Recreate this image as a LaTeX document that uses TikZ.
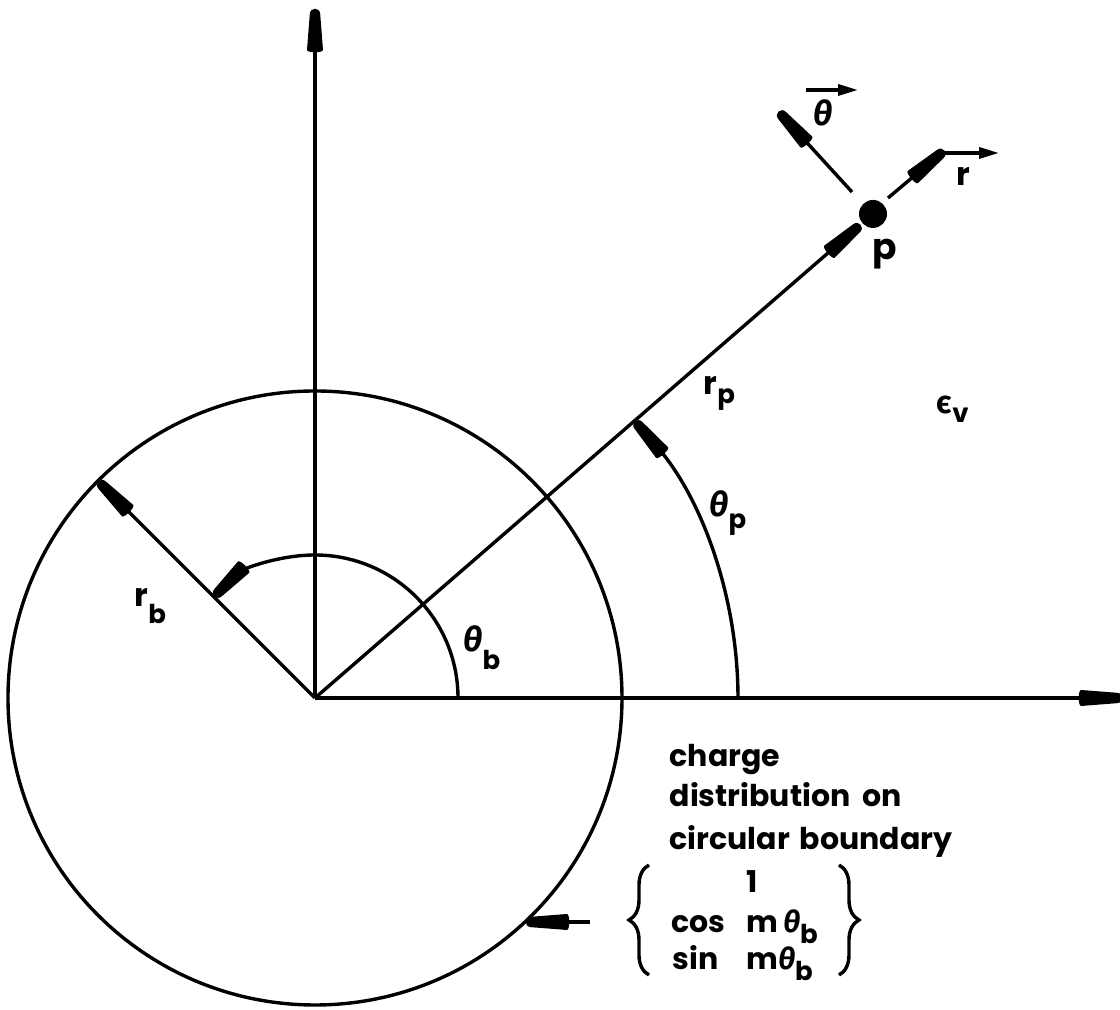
\documentclass[tikz,border=0pt]{standalone}
\usepackage{fontspec}
\setmainfont{Poppins}
\newfontfamily\grkfont{Fira Sans}
\usetikzlibrary{arrows.meta,decorations.pathreplacing}
\pgfdeclarearrow{
  name = Pencil,
  setup code = {
    \pgfarrowssettipend{0pt}
    \pgfarrowssetlineend{-18pt}
    \pgfarrowssetbackend{-22pt}
    \pgfarrowssetvisualbackend{-22pt}
    \pgfarrowshullpoint{0pt}{0pt}
    \pgfarrowshullpoint{-22pt}{4pt}
    \pgfarrowshullpoint{-22pt}{-4pt}
  },
  drawing code = {
    \pgfpathmoveto{\pgfpoint{-21pt}{4pt}}
    \pgfpathlineto{\pgfpoint{-3pt}{2.6pt}}
    \pgfpathcurveto{\pgfpoint{0.5pt}{2.4pt}}{\pgfpoint{0.5pt}{-2.4pt}}{\pgfpoint{-3pt}{-2.6pt}}
    \pgfpathlineto{\pgfpoint{-21pt}{-4pt}}
    \pgfpathcurveto{\pgfpoint{-22.5pt}{-4pt}}{\pgfpoint{-22.5pt}{4pt}}{\pgfpoint{-21pt}{4pt}}
    \pgfpathclose
    \pgfusepathqfill
  },
}
\newcommand{\lowsub}[2][0.45ex]{\raisebox{-#1}{\fontsize{13}{13}\selectfont #2}}
\newcommand{\thet}{{\grkfont\bfseries\itshape θ}}
\begin{document}
\begin{tikzpicture}[x=0.5pt,y=0.5pt,line width=1.7pt,
  pen/.tip={Pencil},
  small/.tip={Triangle[length=10pt,width=5.5pt]},
  lbl/.style={inner sep=0pt,anchor=base west,font=\fontsize{16}{20}\selectfont\bfseries},
  txt/.style={inner sep=0pt,anchor=base west,font=\fontsize{15}{20}\selectfont\bfseries},
  brace/.style={decorate,decoration={brace,amplitude=10pt,aspect=0.5},line width=1.7pt}]
\useasboundingbox (-315,-312) rectangle (805,698);
% axes and circle
\coordinate (O) at (0,0);
\coordinate (Ytop) at (0,690);
\coordinate (Xend) at (808,0);
\draw (O) circle[radius=307];
\draw[-pen] (O) -- (Ytop);
\draw[-pen] (O) -- (Xend);
% point P
\node[circle,fill,inner sep=0pt,minimum size=14pt] (P) at (40.94:738.7) {};
\draw[-pen] (O) -- (P);
% r_b
\coordinate (B) at (135:307);
\draw[-pen] (O) -- (B);
% arcs
\coordinate (Ab) at (0:143);
\coordinate (Ap) at (0:423);
\draw[-pen] (Ab) arc[start angle=0,end angle=135,radius=143];
\draw[-pen] (Ap) arc[start angle=0,end angle=40.94,radius=423];
% unit vectors at P
\coordinate (r1) at (573,500);
\coordinate (r2) at (630,548);
\draw[-pen] (r1) -- (r2);
\coordinate (t1) at (537,506);
\coordinate (t2) at (463,587);
\draw[-pen] (t1) -- (t2);
\coordinate (rv1) at (628,545);
\coordinate (rv2) at (684,545);
\draw[-small] (rv1) -- (rv2);
\coordinate (tv1) at (491,608);
\coordinate (tv2) at (543,608);
\draw[-small] (tv1) -- (tv2);
\node[lbl] (rlab) at (640,512) {r};
\node[lbl,font=\fontsize{17}{20}\selectfont] (tlab) at (497,572) {\thet};
\node[lbl,font=\fontsize{18}{20}\selectfont\bfseries] (plab) at (556,438) {p};
% labels
\node[lbl] (rp) at (387,303) {r\lowsub{p}};
\node[lbl] (ev) at (620,284) {{\grkfont\bfseries ϵ}\lowsub{v}};
\node[lbl,font=\fontsize{17}{20}\selectfont\bfseries] (tp) at (393,181) {\thet\lowsub[0.6ex]{p}};
\node[lbl,font=\fontsize{17}{20}\selectfont\bfseries] (tb) at (147,46) {\thet\lowsub[0.9ex]{b}};
\node[lbl] (rb) at (-182,91) {r\lowsub[0.9ex]{b}};
% text block
\node[txt] (t1n) at (353,-69) {charge};
\node[txt] (t2n) at (353,-109) {distribution\hspace{6pt}on};
\node[txt] (t3n) at (353,-152) {circular\hspace{5pt}boundary};
\node[txt] (one) at (430,-195) {1};
\node[txt] (cosn) at (355,-235) {cos};
\node[txt] (cosm) at (430,-235) {m\,\thet\lowsub[0.6ex]{b}};
\node[txt] (sinn) at (356,-272) {sin};
\node[txt] (sinm) at (430,-272) {m\thet\lowsub[0.6ex]{b}};
\coordinate (lb1) at (334,-277);
\coordinate (lb2) at (334,-167);
\coordinate (rb1) at (524,-167);
\coordinate (rb2) at (524,-277);
\draw[brace] (lb1) -- (lb2);
\draw[brace] (rb1) -- (rb2);
\coordinate (ca) at (275,-224);
\coordinate (cb) at (210,-224);
\draw[-pen] (ca) -- (cb);
\end{tikzpicture}
\end{document}
